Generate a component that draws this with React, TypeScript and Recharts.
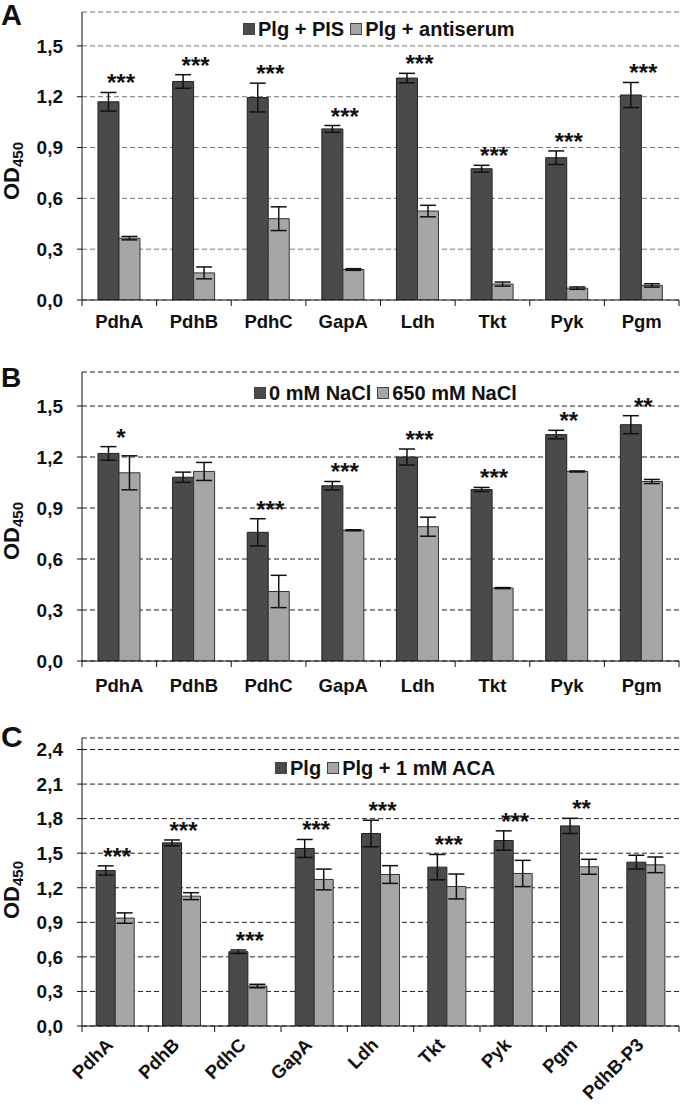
import React from 'react';
import {
  BarChart,
  Bar,
  XAxis,
  YAxis,
  CartesianGrid,
  ErrorBar,
  LabelList,
  Legend,
  Customized,
} from 'recharts';

// ---------- DATA ----------
const catsAB = ['PdhA', 'PdhB', 'PdhC', 'GapA', 'Ldh', 'Tkt', 'Pyk', 'Pgm'];
const catsC = ['PdhA', 'PdhB', 'PdhC', 'GapA', 'Ldh', 'Tkt', 'Pyk', 'Pgm', 'PdhB-P3'];

// Panel A
const aNames = ['Plg + PIS', 'Plg + antiserum'];
const aPIS = [1.17, 1.29, 1.195, 1.01, 1.31, 0.775, 0.84, 1.21];
const aPISErr = [0.055, 0.04, 0.085, 0.02, 0.028, 0.02, 0.04, 0.074];
const aAnti = [0.365, 0.16, 0.48, 0.18, 0.525, 0.094, 0.07, 0.086];
const aAntiErr = [0.01, 0.035, 0.07, 0.005, 0.034, 0.012, 0.007, 0.01];
const aSig = ['***', '***', '***', '***', '***', '***', '***', '***'];

// Panel B
const bNames = ['0 mM NaCl', '650 mM NaCl'];
const bNaCl0 = [1.221, 1.081, 0.757, 1.031, 1.2, 1.009, 1.332, 1.39];
const bNaCl0Err = [0.04, 0.03, 0.08, 0.025, 0.047, 0.012, 0.025, 0.053];
const bNaCl650 = [1.107, 1.115, 0.409, 0.769, 0.79, 0.429, 1.115, 1.056];
const bNaCl650Err = [0.1, 0.053, 0.095, 0.003, 0.056, 0.003, 0.003, 0.012];
const bSig = ['*', '', '***', '***', '***', '***', '**', '**'];

// Panel C
const cNames = ['Plg', 'Plg + 1 mM ACA'];
const cPlg = [1.35, 1.59, 0.645, 1.541, 1.671, 1.379, 1.61, 1.737, 1.422];
const cPlgErr = [0.04, 0.025, 0.015, 0.078, 0.115, 0.11, 0.084, 0.066, 0.06];
const cACA = [0.937, 1.127, 0.347, 1.272, 1.315, 1.211, 1.324, 1.382, 1.399];
const cACAErr = [0.045, 0.03, 0.015, 0.09, 0.077, 0.108, 0.114, 0.065, 0.068];
const cSig = ['***', '***', '***', '***', '***', '***', '***', '**', ''];

// Tick labels
const ticksAB = [0, 0.3, 0.6, 0.9, 1.2, 1.5];
const ticksC = [0, 0.3, 0.6, 0.9, 1.2, 1.5, 1.8, 2.1, 2.4];

// ---------- STYLE ----------
const FONT = '"Liberation Sans", Arial, Helvetica, sans-serif';
const DARK = '#4a4a4a';
const LIGHT = '#a6a6a6';
const INK = '#111';

type Row = { name: string; d: number; de: number; l: number; le: number; sig: string; top: number };

const buildRows = (cats: string[], d: number[], de: number[], l: number[], le: number[], sig: string[]): Row[] =>
  cats.map((name, i) => ({
    name,
    d: d[i],
    de: de[i],
    l: l[i],
    le: le[i],
    sig: sig[i],
    top: Math.max(d[i] + de[i], l[i] + le[i]),
  }));

const fmt = (v: number) => v.toFixed(1).replace('.', ',');

type PanelProps = {
  letter: string;
  rows: Row[];
  names: string[];
  ticks: number[];
  domainMax: number;
  top: number;
  height: number;
  plotTop: number;
  axisLeft: number;
  axisBottom: number;
  legendLeft: number;
  legendTop: number;
  gridColor: string;
  rotate: boolean;
  labelDy: number;
  letterY: number;
  letterSize: number;
  yLabelY: number;
};

const WIDTH = 680;
const RIGHT = 1;

const Panel = (p: PanelProps) => {
  const n = p.rows.length;
  const plotW = WIDTH - p.axisLeft - RIGHT;
  const bw = plotW / n;

  const XTick = (props: any) => {
    const { x, y, payload, index } = props;
    const left = x - bw / 2;
    return (
      <g>
        <line x1={left} y1={y} x2={left} y2={y + 6} stroke={INK} strokeWidth={1} />
        {index === n - 1 ? (
          <line x1={x + bw / 2} y1={y} x2={x + bw / 2} y2={y + 6} stroke={INK} strokeWidth={1} />
        ) : null}
        {p.rotate ? (
          <text
            transform={`translate(${x - 1},${y + 20}) rotate(-45)`}
            textAnchor="end"
            fontFamily={FONT}
            fontWeight="bold"
            fontSize={18.5}
            fill={INK}
          >
            {payload.value}
          </text>
        ) : (
          <text x={x} y={y + p.labelDy} textAnchor="middle" fontFamily={FONT} fontWeight="bold" fontSize={18.5} fill={INK}>
            {payload.value}
          </text>
        )}
      </g>
    );
  };

  const StarLabel = (props: any) => {
    const { x, y, width, height, index } = props;
    const row = p.rows[index];
    if (!row || !row.sig) return null;
    const base = Number(y) + Number(height);
    const ppu = Number(height) / row.d;
    const cy = base - row.top * ppu - 15;
    return (
      <text
        x={Number(x) + Number(width) + 2}
        y={cy + 14}
        textAnchor="middle"
        fontFamily={FONT}
        fontWeight="bold"
        fontSize={24}
        fill={INK}
      >
        {row.sig}
      </text>
    );
  };

  const LegendContent = (props: any) => {
    const payload = props.payload || [];
    return (
      <div
        style={{
          display: 'flex',
          alignItems: 'center',
          fontFamily: FONT,
          fontWeight: 'bold',
          fontSize: 20,
          lineHeight: '22px',
          color: INK,
          whiteSpace: 'nowrap',
        }}
      >
        {payload.map((it: any, i: number) => (
          <span key={i} style={{ display: 'inline-flex', alignItems: 'center', marginRight: i === 0 ? 6 : 0 }}>
            <span
              style={{
                display: 'inline-block',
                width: 10,
                height: 10,
                background: it.color,
                border: '1px solid #444',
                marginRight: 3,
              }}
            />
            {it.value}
          </span>
        ))}
      </div>
    );
  };

  const Decor = () => {
    const cy = p.yLabelY;
    return (
      <g>
        <text x={1} y={p.letterY} fontFamily={FONT} fontWeight="bold" fontSize={p.letterSize} fill={INK}>
          {p.letter}
        </text>
        <text
          transform={`translate(19,${cy}) rotate(-90)`}
          textAnchor="middle"
          fontFamily={FONT}
          fontWeight="bold"
          fontSize={22}
          fill={INK}
        >
          OD
          <tspan fontSize={15} dy={4}>
            450
          </tspan>
        </text>
      </g>
    );
  };

  return (
    <div style={{ position: 'absolute', left: 0, top: p.top }}>
      <BarChart
        width={WIDTH}
        height={p.height}
        data={p.rows}
        margin={{ top: p.plotTop, right: RIGHT, bottom: 0, left: 0 }}
        barCategoryGap="21.4%"
        barGap={0}
      >
        <CartesianGrid horizontal vertical={false} stroke={p.gridColor} strokeDasharray="5 3" />
        <XAxis
          dataKey="name"
          interval={0}
          tickLine={false}
          tickSize={0}
          tickMargin={0}
          height={p.axisBottom}
          axisLine={{ stroke: INK }}
          tick={<XTick />}
        />
        <XAxis
          xAxisId="frameTop"
          dataKey="name"
          orientation="top"
          height={0}
          tick={false}
          tickLine={false}
          axisLine={{ stroke: '#333' }}
        />
        <YAxis
          type="number"
          domain={[0, p.domainMax]}
          ticks={p.ticks}
          interval={0}
          allowDataOverflow
          tickFormatter={fmt}
          tickSize={5}
          tickMargin={14}
          width={p.axisLeft}
          axisLine={{ stroke: INK }}
          tickLine={{ stroke: INK }}
          tick={{ fontFamily: FONT, fontWeight: 'bold', fontSize: 19, fill: INK }}
        />
        <YAxis
          yAxisId="frameRight"
          orientation="right"
          type="number"
          domain={[0, 1]}
          width={0}
          tick={false}
          tickLine={false}
          axisLine={{ stroke: '#333' }}
        />
        <Legend
          verticalAlign="middle"
          align="center"
          layout="horizontal"
          wrapperStyle={{ top: p.legendTop, left: p.legendLeft, width: 'auto' }}
          content={<LegendContent />}
        />
        <Bar dataKey="d" name={p.names[0]} fill={DARK} stroke="#222" strokeWidth={1} isAnimationActive={false}>
          <ErrorBar dataKey="de" width={8} stroke={INK} strokeWidth={1.5} />
          <LabelList dataKey="sig" content={<StarLabel />} />
        </Bar>
        <Bar dataKey="l" name={p.names[1]} fill={LIGHT} stroke="#333" strokeWidth={1} isAnimationActive={false}>
          <ErrorBar dataKey="le" width={8} stroke={INK} strokeWidth={1.5} />
        </Bar>
        <Customized component={<Decor />} />
      </BarChart>
    </div>
  );
};

const rowsA = buildRows(catsAB, aPIS, aPISErr, aAnti, aAntiErr, aSig);
const rowsB = buildRows(catsAB, bNaCl0, bNaCl0Err, bNaCl650, bNaCl650Err, bSig);
const rowsC = buildRows(catsC, cPlg, cPlgErr, cACA, cACAErr, cSig);

export default function App() {
  return (
    <div style={{ position: 'absolute', left: 0, top: 0, width: WIDTH, height: 1105, background: '#fff' }}>
      <Panel
        letter="A"
        rows={rowsA}
        names={aNames}
        ticks={ticksAB}
        domainMax={1.7}
        top={0}
        height={340}
        plotTop={12}
        axisLeft={82}
        axisBottom={40}
        legendLeft={243}
        legendTop={18}
        gridColor="#777"
        rotate={false}
        labelDy={28}
        letterY={25}
        letterSize={29}
        yLabelY={171}
      />
      <Panel
        letter="B"
        rows={rowsB}
        names={bNames}
        ticks={ticksAB}
        domainMax={1.7}
        top={340}
        height={355}
        plotTop={32}
        axisLeft={82}
        axisBottom={34}
        legendLeft={254}
        legendTop={42}
        gridColor="#222"
        rotate={false}
        labelDy={31}
        letterY={47}
        letterSize={28}
        yLabelY={191}
      />
      <Panel
        letter="C"
        rows={rowsC}
        names={cNames}
        ticks={ticksC}
        domainMax={2.5}
        top={700}
        height={405}
        plotTop={38}
        axisLeft={82}
        axisBottom={79}
        legendLeft={275}
        legendTop={57}
        gridColor="#222"
        rotate={true}
        labelDy={0}
        letterY={47}
        letterSize={30}
        yLabelY={190}
      />
    </div>
  );
}
